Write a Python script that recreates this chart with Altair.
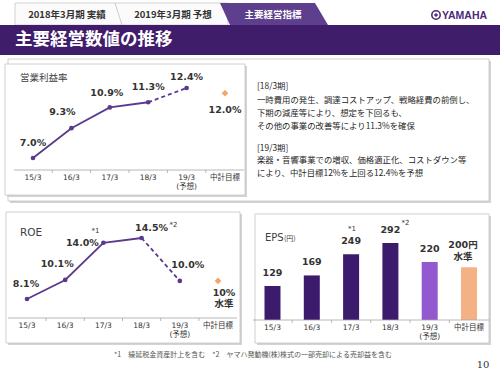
import altair as alt
import pandas as pd

# ---------------- data ----------------
cats = ["15/3", "16/3", "17/3", "18/3", "19/3", "中計目標"]
tick_labels = ["15/3", "16/3", "17/3", "18/3", "19/3\n(予想)", "中計目標"]
kinds = ["actual", "actual", "actual", "actual", "forecast", "target"]
notes = ["", "", "*1", "*2", "", ""]

opm_values = [7.0, 9.3, 10.9, 11.3, 12.4, 12.0]
opm_labels = ["7.0%", "9.3%", "10.9%", "11.3%", "12.4%", "12.0%"]

roe_values = [8.1, 10.1, 14.0, 14.5, 10.0, 10.0]
roe_labels = ["8.1%", "10.1%", "14.0%", "14.5%", "10.0%", "10%\n水準"]

eps_values = [129, 169, 249, 292, 220, 200]
eps_labels = ["129", "169", "249", "292", "220", "200円\n水準"]

tabs = ["2018年3月期 実績", "2019年3月期 予想", "主要経営指標"]
page_title = "主要経営数値の推移"
comment_lines = [
    "[18/3期]",
    "一時費用の発生、調達コストアップ、戦略経費の前倒し、",
    "下期の減産等により、想定を下回るも、",
    " その他の事業の改善等により11.3%を確保",
    "[19/3期]",
    " 楽器・音響事業での増収、価格適正化、コストダウン等",
    "により、中計目標12%を上回る12.4%を予想",
]
footnote = "*1　繰延税金資産計上を含む　*2　ヤマハ発動機(株)株式の一部売却による売却益を含む"
page_no = "10"

# ---------------- style ----------------
JP = "Noto Sans CJK JP"
NUM = "DejaVu Sans, Noto Sans CJK JP"
PURPLE_DARK = "#3f1d6b"
LINE_PURPLE = "#5b3a8e"
ORANGE = "#f4a56c"
TXT = "#333333"


def frame(values, labels):
    return pd.DataFrame({"cat": cats, "tick": tick_labels, "kind": kinds,
                         "value": values, "label": labels, "note": notes})


one = pd.DataFrame({"k": [0]})


def rect(x, x2, y, y2, fill, stroke=None, sw=1.0):
    kw = dict(fill=fill, strokeWidth=sw)
    if stroke:
        kw["stroke"] = stroke
    return alt.Chart(one).mark_rect(**kw).encode(
        x=alt.value(x), x2=alt.value(x2), y=alt.value(y), y2=alt.value(y2))


def rule(x, x2, y, y2, color, sw=1.0):
    return alt.Chart(one).mark_rule(color=color, strokeWidth=sw).encode(
        x=alt.value(x), x2=alt.value(x2), y=alt.value(y), y2=alt.value(y2))


def text(t, x, y, size, color=TXT, font=JP, weight="normal", align="left", baseline="middle"):
    return alt.Chart(one).mark_text(fontSize=size, color=color, font=font, fontWeight=weight,
                                    align=align, baseline=baseline).encode(
        x=alt.value(x), y=alt.value(y), text=alt.value(t))


def box(x, x2, y, y2):
    return [rect(x + 2, x2 + 2, y + 2, y2 + 2, "#d4d4d4"),
            rect(x, x2, y, y2, "white", "#c4c4c4", 0.8)]


def X(rng):
    return alt.X("cat:N", scale=alt.Scale(type="point", domain=cats, range=rng, padding=0), axis=None)


def Y(domain, rng):
    return alt.Y("value:Q", scale=alt.Scale(domain=domain, range=rng, zero=False, nice=False), axis=None)


def only(ch, which):
    return ch.transform_filter(alt.FieldOneOfPredicate(field="cat", oneOf=which))


def label_layer(df, x, y, which, dx, dy, size=9.5, field="label", weight="bold",
                baseline="middle", line_height=11, align="center"):
    return only(alt.Chart(df).mark_text(fontSize=size, font=NUM, fontWeight=weight, color=TXT,
                                        dx=dx, dy=dy, baseline=baseline, lineBreak="\n",
                                        lineHeight=line_height, align=align),
                which).encode(x=x, y=y, text=f"{field}:N")


def x_axis(df, x, axis_y, x0, x1, half):
    layers = [rule(x0, x1, axis_y, axis_y, "#a6a6a6", 0.8)]
    layers.append(only(alt.Chart(df).mark_point(shape=f"M{-half},0 L{-half},3", size=4, filled=False,
                                                 stroke="#a6a6a6", strokeWidth=0.8, opacity=1),
                       cats[1:]).encode(x=x, y=alt.value(axis_y)))
    layers.append(alt.Chart(df).mark_text(fontSize=7.5, font=NUM, color=TXT, baseline="top",
                                          lineBreak="\n", lineHeight=8.5).encode(
        x=x, y=alt.value(axis_y + 4), text="tick:N"))
    return layers


def line_panel(df, x, y, sizes=(22, 45)):
    return [
        only(alt.Chart(df).mark_line(color=LINE_PURPLE, strokeWidth=1.8), cats[:4]).encode(x=x, y=y),
        only(alt.Chart(df).mark_line(color=LINE_PURPLE, strokeWidth=1.8, strokeDash=[4, 3]),
             cats[3:5]).encode(x=x, y=y),
        only(alt.Chart(df).mark_circle(color=LINE_PURPLE, size=sizes[0], opacity=1), cats[:5]).encode(x=x, y=y),
        only(alt.Chart(df).mark_point(shape="diamond", filled=True, color=ORANGE, size=sizes[1], opacity=1),
             cats[5:]).encode(x=x, y=y),
    ]


layers = []

# ---------------- header ----------------
layers.append(rect(15, 228, 3, 25, "#fbfbfb", "#c8c8c8", 0.8))
layers.append(rule(115, 122, 3, 25, "#c0c0c0", 0.8))
layers.append(alt.Chart(one).mark_point(shape="M0,0 L95,0 L108,22 L10,22 Z", size=4, filled=True,
                                        color="#5e3f8d", opacity=1, strokeWidth=0).encode(
    x=alt.value(220), y=alt.value(3)))
layers.append(text(tabs[0], 67, 15, 9.5, weight="bold", align="center"))
layers.append(text(tabs[1], 173, 15, 9.5, weight="bold", align="center"))
layers.append(text(tabs[2], 273, 15, 9.5, color="white", weight="bold", align="center"))
layers.append(alt.Chart(one).mark_point(shape="circle", size=70, filled=False, color="#4a2a7b",
                                        strokeWidth=1.6, opacity=1).encode(x=alt.value(436), y=alt.value(15)))
layers.append(alt.Chart(one).mark_point(shape="cross", size=14, filled=True, color="#4a2a7b",
                                        opacity=1).encode(x=alt.value(436), y=alt.value(15)))
layers.append(text("YAMAHA", 442, 15.5, 10.5, color="#4a2a7b", font="Liberation Sans", weight="bold"))
layers.append(rect(0, 500, 25, 55, PURPLE_DARK))
layers.append(text(page_title, 15, 40, 17.5, color="white", weight="bold"))

# ---------------- top section ----------------
layers += box(8, 489, 59, 201)
layers += box(5, 245, 64, 195)

df1 = frame(opm_values, opm_labels)
x1 = X([33, 225])
y1 = Y([7.0, 12.4], [158, 88])
layers.append(text("営業利益率", 20, 78, 9.5, color="#404040"))
layers += x_axis(df1, x1, 170, 14, 244, 19.2)
layers += line_panel(df1, x1, y1)
layers.append(label_layer(df1, x1, y1, ["15/3", "18/3"], 0, -15))
layers.append(label_layer(df1, x1, y1, ["16/3"], -9, -16))
layers.append(label_layer(df1, x1, y1, ["17/3"], -3, -14))
layers.append(label_layer(df1, x1, y1, ["19/3"], 0, -11))
layers.append(label_layer(df1, x1, y1, ["中計目標"], 0, 17))

for i, line in enumerate(comment_lines):
    ys_ = [86, 100, 113, 126, 148, 160, 173][i]
    shown = "\u00a0\u00a0" + line[1:] if line.startswith(" ") else line
    layers.append(text(shown, 257, ys_, 8.4, color="#262626"))

# ---------------- ROE ----------------
layers += box(6, 240, 212, 343)
df2 = frame(roe_values, roe_labels)
x2 = X([27, 218])
y2 = Y([8.1, 14.5], [299, 238])
layers.append(text("ROE", 20, 233, 10.5, color="#404040", font=NUM))
layers += x_axis(df2, x2, 318, 8, 237, 19.1)
layers += line_panel(df2, x2, y2)
layers.append(label_layer(df2, x2, y2, ["15/3"], -1, -15))
layers.append(label_layer(df2, x2, y2, ["16/3"], -8, -16))
layers.append(label_layer(df2, x2, y2, ["17/3"], -21, 0))
layers.append(label_layer(df2, x2, y2, ["18/3"], 10, -10))
layers.append(label_layer(df2, x2, y2, ["19/3"], 8, -16))
layers.append(label_layer(df2, x2, y2, ["中計目標"], 6, 7, baseline="top", line_height=11))
layers.append(label_layer(df2, x2, y2, ["17/3"], -8, -12, size=7, field="note", weight="normal"))
layers.append(label_layer(df2, x2, y2, ["18/3"], 28, -13, size=7, field="note", weight="normal",
                          align="left"))

# ---------------- EPS ----------------
layers += box(255, 489, 214, 343)
df3 = frame(eps_values, eps_labels)
x3 = X([272.5, 469])
y3 = Y([0, 292], [320, 243])
layers.append(text("EPS", 265, 238, 10, color="#404040", font=NUM))
layers.append(text("(円)", 284, 239, 7, color="#404040"))
for which, col in [(cats[:4], "#3c1a6c"), (cats[4:5], "#9359cf"), (cats[5:], "#f4b183")]:
    layers.append(only(alt.Chart(df3).mark_bar(width=16, color=col), which).encode(x=x3, y=y3))
layers += x_axis(df3, x3, 320, 253, 489, 19.65)
layers.append(label_layer(df3, x3, y3, cats[:5], 0, -13))
layers.append(label_layer(df3, x3, y3, ["中計目標"], -6, -27, baseline="top", line_height=12))
layers.append(label_layer(df3, x3, y3, ["17/3"], 1, -25, size=7, field="note", weight="normal"))
layers.append(label_layer(df3, x3, y3, ["18/3"], 11, -20, size=7, field="note", weight="normal",
                          align="left"))

# ---------------- footer ----------------
layers.append(text(footnote, 253, 355, 7, color="#555555", align="center"))
layers.append(text(page_no, 483, 365, 10, color="#333333", font="DejaVu Serif", align="center"))

chart = alt.layer(*layers).resolve_scale(x="independent", y="independent").properties(
    width=500, height=375, padding=0, autosize="none", background="white"
).configure_view(stroke=None)

chart.save("out.html", embed_options={"renderer": "svg", "actions": False})
